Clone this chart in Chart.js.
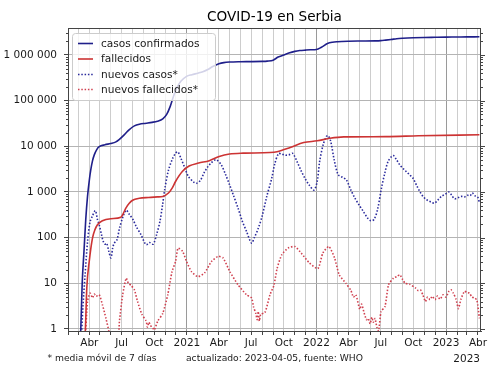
<!DOCTYPE html>
<html><head><meta charset="utf-8">
<script src="https://cdn.jsdelivr.net/npm/chart.js@4.4.1/dist/chart.umd.min.js"></script>
<style>html,body{margin:0;padding:0;background:#fff}#wrap{width:500px;height:375px;position:relative}</style>
</head><body><div id="wrap"><canvas id="c"></canvas></div>
<script>
const chartTitle = 'COVID-19 en Serbia';
const seriesLabels = ['casos confirmados', 'fallecidos', 'nuevos casos*', 'nuevos fallecidos*'];
const monthLabels = ['', '', '', 'Abr', '', '', 'Jul', '', '', 'Oct', '', ''];
const yTickValues = [1, 10, 100, 1000, 10000, 100000, 1000000];
const footLeft = '* media móvil de 7 días';
const footCenter = 'actualizado: 2023-04-05, fuente: WHO';

const casosDates = ['2020-03-05','2020-03-08','2020-03-12','2020-03-17','2020-03-22','2020-03-27','2020-04-01','2020-04-05','2020-04-10','2020-04-15','2020-04-22','2020-04-29','2020-05-15','2020-05-31','2020-06-15','2020-06-24','2020-07-09','2020-07-22','2020-08-06','2020-08-20','2020-09-08','2020-09-25','2020-10-10','2020-10-25','2020-11-05','2020-11-15','2020-11-25','2020-12-05','2020-12-15','2020-12-31','2021-01-15','2021-02-01','2021-02-15','2021-03-01','2021-03-15','2021-04-01','2021-04-15','2021-05-01','2021-06-01','2021-07-01','2021-08-01','2021-08-15','2021-09-01','2021-09-15','2021-10-01','2021-10-15','2021-11-01','2021-11-15','2021-12-01','2021-12-15','2022-01-01','2022-01-15','2022-02-01','2022-02-15','2022-03-01','2022-04-01','2022-05-01','2022-06-15','2022-07-01','2022-07-15','2022-08-01','2022-08-15','2022-09-01','2022-10-01','2022-11-01','2022-12-01','2023-01-01','2023-02-01','2023-03-01','2023-04-05'];
const casosValues = [0.5,1,10,50,250,800,1800,3000,4800,6500,8500,9800,10800,11500,12500,14000,18000,23000,28000,30500,32000,33500,35500,40000,50000,75000,130000,200000,265000,340000,370000,400000,430000,480000,560000,640000,680000,700000,712000,716000,725000,735000,770000,900000,1000000,1100000,1200000,1250000,1280000,1300000,1320000,1480000,1780000,1900000,1950000,2000000,2020000,2035000,2060000,2120000,2200000,2270000,2320000,2380000,2420000,2440000,2460000,2475000,2490000,2500000];

const fallecidosDates = ['2020-03-19','2020-03-21','2020-03-25','2020-04-01','2020-04-10','2020-04-17','2020-04-24','2020-05-08','2020-06-01','2020-06-29','2020-07-06','2020-07-13','2020-07-22','2020-08-01','2020-08-20','2020-09-15','2020-10-10','2020-10-25','2020-11-10','2020-11-20','2020-11-30','2020-12-19','2021-01-07','2021-02-03','2021-03-05','2021-04-02','2021-05-01','2021-06-08','2021-08-23','2021-09-12','2021-10-19','2021-11-26','2022-01-03','2022-02-08','2022-03-19','2022-07-15','2022-10-15','2023-04-05'];
const fallecidosValues = [0.5,1,8,31,98,150,192,235,260,280,340,445,560,660,730,760,780,800,950,1200,1700,2800,3700,4300,4850,6000,6800,7100,7300,7600,9400,12100,13200,15000,16100,16300,17000,17900];

const nuevosCasosDates = ['2020-03-09','2020-03-14','2020-03-20','2020-03-27','2020-04-03','2020-04-10','2020-04-18','2020-04-24','2020-04-29','2020-05-05','2020-05-10','2020-05-15','2020-05-20','2020-05-26','2020-06-01','2020-06-06','2020-06-10','2020-06-18','2020-06-25','2020-07-05','2020-07-14','2020-07-22','2020-08-02','2020-08-12','2020-08-25','2020-09-03','2020-09-09','2020-09-18','2020-09-28','2020-10-08','2020-10-17','2020-10-24','2020-10-31','2020-11-10','2020-11-22','2020-12-01','2020-12-07','2020-12-15','2020-12-26','2021-01-05','2021-01-20','2021-01-28','2021-02-08','2021-02-18','2021-02-27','2021-03-10','2021-03-24','2021-04-08','2021-04-20','2021-05-01','2021-05-12','2021-05-25','2021-06-06','2021-06-18','2021-07-02','2021-07-10','2021-07-21','2021-08-01','2021-08-14','2021-08-28','2021-09-05','2021-09-16','2021-09-25','2021-10-05','2021-10-15','2021-10-26','2021-11-08','2021-11-18','2021-12-01','2021-12-12','2021-12-25','2022-01-03','2022-01-10','2022-01-20','2022-01-29','2022-02-03','2022-02-10','2022-02-20','2022-03-03','2022-03-15','2022-03-26','2022-04-08','2022-04-19','2022-05-01','2022-05-13','2022-05-25','2022-06-03','2022-06-12','2022-06-22','2022-07-03','2022-07-12','2022-07-22','2022-08-05','2022-08-15','2022-08-24','2022-09-03','2022-09-11','2022-09-20','2022-09-30','2022-10-10','2022-10-19','2022-10-28','2022-11-07','2022-11-20','2022-11-30','2022-12-10','2022-12-19','2022-12-30','2023-01-09','2023-01-17','2023-01-25','2023-02-05','2023-02-13','2023-02-22','2023-03-02','2023-03-10','2023-03-16','2023-03-24','2023-04-01','2023-04-05'];
const nuevosCasosValues = [0.5,3,15,80,220,300,390,250,190,120,84,72,75,50,36,60,75,90,160,290,400,330,250,170,115,80,70,78,72,120,227,500,1200,3000,5500,7200,7500,5500,3400,2200,1650,1550,1800,2600,3400,4300,5100,3900,2400,1450,850,445,230,137,76,100,160,300,800,2000,4000,6900,6800,6400,6500,7000,4500,3000,1900,1400,1100,1700,4700,11000,16500,17000,13000,5000,2400,2100,1850,1100,740,520,375,270,235,250,410,1200,2500,4700,6300,5000,3900,3200,2800,2400,2000,1400,1030,800,680,600,570,680,800,900,1000,850,710,760,800,780,850,830,950,820,750,570];

const nuevosFallecidosDates = ['2020-03-20','2020-03-27','2020-04-03','2020-04-10','2020-04-15','2020-04-20','2020-04-29','2020-05-08','2020-05-18','2020-05-26','2020-06-01','2020-06-20','2020-06-25','2020-07-04','2020-07-14','2020-07-20','2020-07-28','2020-08-06','2020-08-15','2020-08-27','2020-09-08','2020-09-12','2020-09-16','2020-09-20','2020-09-27','2020-10-01','2020-10-11','2020-10-25','2020-11-08','2020-11-20','2020-11-30','2020-12-07','2020-12-20','2020-12-31','2021-01-14','2021-02-01','2021-02-20','2021-03-11','2021-03-30','2021-04-13','2021-05-02','2021-05-25','2021-06-18','2021-07-02','2021-07-08','2021-07-14','2021-07-18','2021-07-21','2021-07-24','2021-07-28','2021-08-09','2021-08-23','2021-09-03','2021-09-12','2021-09-25','2021-10-13','2021-11-01','2021-11-19','2021-12-12','2022-01-05','2022-01-19','2022-02-05','2022-02-21','2022-03-06','2022-03-25','2022-04-08','2022-04-15','2022-04-22','2022-05-03','2022-05-08','2022-05-15','2022-05-22','2022-05-27','2022-06-01','2022-06-06','2022-06-10','2022-06-15','2022-06-20','2022-06-25','2022-07-02','2022-07-13','2022-07-23','2022-08-06','2022-08-15','2022-08-24','2022-09-01','2022-09-08','2022-09-20','2022-10-07','2022-10-14','2022-10-21','2022-10-28','2022-11-04','2022-11-10','2022-11-17','2022-11-23','2022-12-01','2022-12-08','2022-12-15','2022-12-24','2023-01-01','2023-01-09','2023-01-15','2023-01-22','2023-01-29','2023-02-05','2023-02-12','2023-02-22','2023-03-01','2023-03-08','2023-03-15','2023-03-22','2023-03-29','2023-04-05'];
const nuevosFallecidosValues = [0.5,4,6.1,4.8,5.8,5.2,5.6,3.4,1.7,0.9,0.5,0.5,1.5,5.6,13,10,9,7.2,4,2.1,1.5,1.1,1.4,1.2,1.05,0.95,1.5,2.2,5.6,18,30,59,50,30,18,14,17,30,39,36,18,9.3,5.6,4.8,3,2.2,1.6,2.4,1.5,2.1,2.3,5.6,9,21,42,59,64,46,28,21,46,64,36,15.4,10,7,5,5.6,2.7,3.5,2.3,1.6,1.7,1.3,1.8,1.4,1.7,1.1,0.9,2.4,3.1,9.3,13,14,15.4,12,10,9.6,7.9,7,7.2,5.5,4,5,4.4,5.2,4.4,5.3,4.5,5.6,5,6.7,7.2,6,4.5,2.8,4.5,6.7,6.3,6.1,5,4.8,4.3,1.7];

const FONT = "'DejaVu Sans', sans-serif";
function day(s) { const p = s.split('-').map(Number); return Date.UTC(p[0], p[1] - 1, p[2]) / 864e5; }
function pts(dates, vals) { return dates.map((d, i) => ({ x: day(d), y: vals[i] })); }
function fmt(v) { return String(v).replace(/\B(?=(\d{3})+(?!\d))/g, ' '); }

const xMin = day('2020-02-01');
const xMax = day('2023-04-09') + 0.5;
const monthTicks = [];
for (let y = 2020; y <= 2023; y++) for (let m = 0; m < 12; m++) {
  const v = Date.UTC(y, m, 1) / 864e5;
  if (v >= xMin && v <= xMax) monthTicks.push({ v, y, m });
}
function labelFor(v) {
  const t = monthTicks.find(t => t.v === v);
  if (!t) return '';
  return t.m === 0 ? String(t.y) : monthLabels[t.m];
}

const colors = ['#1f1f8a', '#cc3333', '#2a2a9c', '#d0404f'];

const extras = {
  id: 'extras',
  afterDatasetsDraw(chart) {
    const ctx = chart.ctx;
    ctx.save();
    // legend
    const lx = 72, ly = 33, lw = 143, lh = 67;
    ctx.beginPath();
    if (ctx.roundRect) ctx.roundRect(lx + 0.5, ly + 0.5, lw, lh, 3); else ctx.rect(lx + 0.5, ly + 0.5, lw, lh);
    ctx.fillStyle = 'rgba(255,255,255,0.8)';
    ctx.fill();
    ctx.strokeStyle = '#cccccc';
    ctx.lineWidth = 1;
    ctx.stroke();
    const rows = [43.5, 59, 74.5, 89.5];
    ctx.font = '10.6px ' + FONT;
    ctx.textBaseline = 'middle';
    ctx.textAlign = 'left';
    chart.data.datasets.forEach((ds, i) => {
      ctx.beginPath();
      ctx.strokeStyle = ds.borderColor;
      ctx.lineWidth = ds.borderWidth;
      ctx.setLineDash(ds.borderDash || []);
      ctx.moveTo(78, rows[i]); ctx.lineTo(93, rows[i]);
      ctx.stroke();
      ctx.setLineDash([]);
      ctx.fillStyle = '#1a1a1a';
      ctx.fillText(ds.label, 101, rows[i] + 0.5);
    });
    ctx.restore();
  },
  afterDraw(chart) {
    const ctx = chart.ctx, a = chart.chartArea, ys = chart.scales.y;
    ctx.save();
    ctx.strokeStyle = '#444';
    ctx.lineWidth = 1;
    ctx.beginPath();
    ctx.moveTo(a.left, a.top + 0.5); ctx.lineTo(a.right, a.top + 0.5);
    ctx.moveTo(a.right - 0.5, a.top); ctx.lineTo(a.right - 0.5, a.bottom);
    for (let e = 0; e <= 6; e++) for (let k = 1; k <= 9; k++) {
      const v = k * Math.pow(10, e);
      if (v < ys.min || v > ys.max) continue;
      const py = Math.round(ys.getPixelForValue(v)) + 0.5;
      const len = k === 1 ? 4 : 2;
      if (k !== 1) { ctx.moveTo(a.left - len, py); ctx.lineTo(a.left, py); }
      ctx.moveTo(a.right, py); ctx.lineTo(a.right + len, py);
    }
    ctx.stroke();
    // title
    ctx.fillStyle = '#000';
    ctx.textAlign = 'center';
    ctx.textBaseline = 'middle';
    ctx.font = '13.6px ' + FONT;
    ctx.fillText(chartTitle, (a.left + a.right) / 2, 17);
    // footer
    ctx.font = '9.2px ' + FONT;
    ctx.fillStyle = '#1a1a1a';
    ctx.textAlign = 'left';
    ctx.fillText(footLeft, 47.5, 359);
    ctx.textAlign = 'center';
    ctx.fillText(footCenter, (a.left + a.right) / 2, 359);
    ctx.font = '10.5px ' + FONT;
    ctx.textAlign = 'right';
    ctx.fillText('2023', 480, 359);
    ctx.restore();
  }
};

new Chart(document.getElementById('c'), {
  type: 'line',
  data: {
    datasets: [
      { label: seriesLabels[0], data: pts(casosDates, casosValues), borderColor: colors[0], borderWidth: 1.6, pointRadius: 0, cubicInterpolationMode: 'monotone' },
      { label: seriesLabels[1], data: pts(fallecidosDates, fallecidosValues), borderColor: colors[1], borderWidth: 1.6, pointRadius: 0, cubicInterpolationMode: 'monotone' },
      { label: seriesLabels[2], data: pts(nuevosCasosDates, nuevosCasosValues), borderColor: colors[2], borderWidth: 1.6, borderDash: [1.5, 1.8], pointRadius: 0, tension: 0.3 },
      { label: seriesLabels[3], data: pts(nuevosFallecidosDates, nuevosFallecidosValues), borderColor: colors[3], borderWidth: 1.6, borderDash: [1.5, 1.8], pointRadius: 0, tension: 0.2 }
    ]
  },
  options: {
    responsive: true,
    maintainAspectRatio: false,
    animation: false,
    events: [],
    layout: { padding: { top: 28, right: 19, bottom: 0, left: 0 } },
    plugins: { legend: { display: false }, title: { display: false }, tooltip: { enabled: false } },
    scales: {
      x: {
        type: 'linear',
        min: xMin, max: xMax,
        afterBuildTicks: s => { s.ticks = monthTicks.map(t => ({ value: t.v })); },
        afterFit: s => { s.height = 44; },
        ticks: { autoSkip: false, maxRotation: 0, minRotation: 0, padding: 2, color: '#1a1a1a', font: { family: FONT, size: 10.5 }, callback: v => labelFor(v) },
        grid: {
          color: c => (c.tick && monthTicks.some(t => t.v === c.tick.value && t.m === 0)) ? '#9a9a9a' : '#cdcdcd',
          tickColor: '#444', tickLength: 4, drawTicks: true
        },
        border: { color: '#444', width: 1 }
      },
      y: {
        type: 'logarithmic',
        min: 0.904, max: 3.9e6,
        afterBuildTicks: s => { s.ticks = yTickValues.map(v => ({ value: v })); },
        afterFit: s => { s.width = 68; },
        ticks: { padding: 7, color: '#1a1a1a', font: { family: FONT, size: 10.5 }, callback: v => fmt(v) },
        grid: { color: '#b4b4b4', tickColor: '#444', tickLength: 4 },
        border: { color: '#444', width: 1 }
      }
    }
  },
  plugins: [extras]
});
</script>
</body></html>
